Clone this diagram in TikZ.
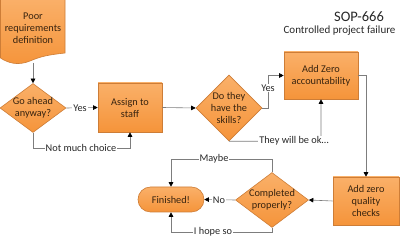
\documentclass[tikz,border=0pt]{standalone}
\usepackage{fontspec}
\setmainfont{Carlito}
\usetikzlibrary{shapes.geometric,shapes.misc,arrows.meta}
\definecolor{boxtop}{RGB}{250,176,105}
\definecolor{boxbot}{RGB}{245,148,58}
\definecolor{boxline}{RGB}{205,125,55}
\definecolor{boxtext}{RGB}{55,35,15}
\definecolor{linecol}{RGB}{125,125,125}
\definecolor{lbltext}{RGB}{40,40,40}
\tikzset{
  shp/.style={draw=boxline, line width=0.6pt, top color=boxtop, bottom color=boxbot, inner sep=0pt},
  diabox/.style={shp, diamond},
  termbox/.style={shp, rounded rectangle},
  txt/.style={text=boxtext, align=center, font=\fontsize{10.3}{12}\selectfont},
  conn/.style={draw=linecol, line width=0.6pt, -{Triangle[length=4.5pt,width=4.5pt,fill=black,color=black]}},
  lbl/.style={fill=white, inner sep=1pt, text=lbltext, font=\fontsize{10.3}{12}\selectfont},
}
\begin{document}
\begin{tikzpicture}[x=1pt,y=-1pt]
\useasboundingbox (0,0) rectangle (400,240);
% document shape
\path[shp] (0.5,-2) -- (65,-2) -- (65,53)
  .. controls (48,55) and (42,56) .. (30,61)
  .. controls (18,66) and (8,63) .. (0.5,58) -- cycle;
\node[txt] (doc) at (33,28) {Poor\\requirements\\definition};
\coordinate (docb) at (33,63);
% nodes
\node[diabox, minimum width=66pt, minimum height=49pt] (d1) at (33,108) {};
\node[txt] at (d1) {Go ahead\\anyway?};
\node[shp, rectangle, minimum width=64pt, minimum height=49pt] (r1) at (130,107.5) {};
\node[txt] at (r1) {Assign to\\staff};
\node[diabox, minimum width=66pt, minimum height=66pt] (d2) at (229,108) {};
\node[txt] at (d2) {Do they\\have the\\skills?};
\node[shp, rectangle, minimum width=74pt, minimum height=47pt] (r2) at (321,75.5) {};
\node[txt] at (r2) {Add Zero\\accountability};
\node[shp, rectangle, minimum width=66pt, minimum height=48pt] (r3) at (366,201) {};
\node[txt] at (r3) {Add zero\\quality\\checks};
\node[diabox, minimum width=73pt, minimum height=55pt] (d3) at (272,200) {};
\node[txt] at (d3) {Completed\\properly?};
\node[termbox, minimum width=66pt, minimum height=25pt] (fin) at (171,199.5) {};
\node[txt] at (fin) {Finished!};
% title
\node[text=lbltext, font=\fontsize{14.5}{16}\selectfont] (title) at (359,17) {SOP-666};
\node[text=lbltext, font=\fontsize{11}{13}\selectfont, anchor=east] (sub) at (399,31) {Controlled project failure};
% connectors
\coordinate (c1) at (33,148);
\coordinate (c2) at (130,148);
\coordinate (c3) at (268,108);
\coordinate (c4) at (268,75.5);
\coordinate (c5) at (321,141);
\coordinate (c6) at (366,75.5);
\coordinate (c7) at (272,159);
\coordinate (c8) at (171,159);
\coordinate (c9) at (272,232);
\coordinate (c10) at (171,232);
\draw[conn] (docb) -- (d1.north);
\draw[conn] (d1.east) -- (r1.west);
\node[lbl] (l1) at (80,108) {Yes};
\draw[conn] (d1.south) -- (c1) -- (c2) -- (r1.south);
\node[lbl] (l2) at (81,148) {Not much choice};
\draw[conn] (r1.east) -- (d2.west);
\draw[conn] (d2.east) -- (c3) -- (c4) -- (r2.west);
\node[lbl] (l3) at (268,88) {Yes};
\draw[conn] (d2.south) -- (c5) -- (r2.south);
\node[lbl] (l4) at (294,141) {They will be ok…};
\draw[conn] (r2.east) -- (c6) -- (r3.north);
\draw[conn] (r3.west) -- (d3.east);
\draw[conn] (d3.west) -- (fin.east);
\node[lbl] (l5) at (219,200) {No};
\draw[conn] (d3.north) -- (c7) -- (c8) -- (fin.north);
\node[lbl] (l6) at (214,159) {Maybe};
\draw[conn] (d3.south) -- (c9) -- (c10) -- (fin.south);
\node[lbl] (l7) at (213,232) {I hope so};
\end{tikzpicture}
\end{document}
